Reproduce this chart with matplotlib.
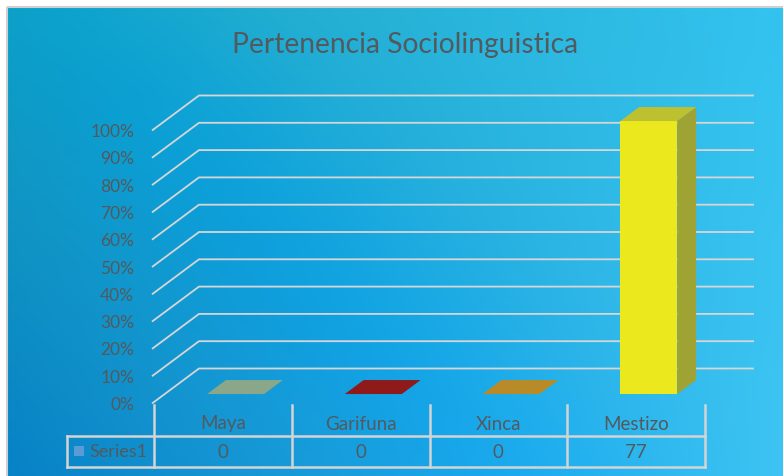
import numpy as np
import matplotlib
matplotlib.use("Agg")
import matplotlib.pyplot as plt
from matplotlib.patches import Polygon, Rectangle

# data
title = "Pertenencia Sociolinguistica"
categories = ["Maya", "Garifuna", "Xinca", "Mestizo"]
series_name = "Series1"
values = [0, 0, 0, 77]
tick_pcts = [0, 10, 20, 30, 40, 50, 60, 70, 80, 90, 100]

# one series, 100% stacked -> every non-zero point fills the column
pcts = [100.0 * v / v if v else 0.0 for v in values]

W, H = 783, 476
fig = plt.figure(figsize=(W / 100, H / 100), dpi=100)
ax = fig.add_axes([0, 0, 1, 1])
ax.set_xlim(0, W)
ax.set_ylim(H, 0)
ax.axis("off")
plt.rcParams["font.family"] = ["Lato", "DejaVu Sans"]
txt = "#535a5f"

# gradient background (bilinear between the four corners, plus a deeper middle)
tl = np.array([0x1b, 0xa3, 0xbf]) / 255
tr = np.array([0x33, 0xc3, 0xef]) / 255
bl = np.array([0x06, 0x82, 0xc6]) / 255
br = np.array([0x3e, 0xc4, 0xf3]) / 255
u = np.linspace(0, 1, 200)[None, :, None]
v = np.linspace(0, 1, 150)[:, None, None]
grad = (1 - v) * ((1 - u) * tl + u * tr) + v * ((1 - u) * bl + u * br)
# slightly more saturated diagonal band across the middle
band = np.exp(-((u - 0.35) + (0.5 - v) * 0.6) ** 2 / 0.05)
grad = grad + band * (np.array([-0.06, -0.01, 0.04]))
grad = np.clip(grad, 0, 1)
ax.imshow(grad, extent=[7, W, H, 7], aspect="auto", interpolation="bilinear", zorder=0)
ax.add_patch(Rectangle((7, 7), W, H, fill=False, ec="#d0d0d0", lw=1.5, zorder=1))

# faux 3D geometry
x_front = 152
y_zero = 403.5
px_per_pct = 2.73
depth_dx, depth_dy = 47, -35
x_right = 754
slot_left, slot_right = 154, 705


def proj(x, pct, depth):
    return (x + depth_dx * depth, y_zero - pct * px_per_pct + depth_dy * depth)


grid_col = "#d6d6d6"
for p in tick_pcts:
    x0, y0 = proj(x_front, p, 0)
    x1, y1 = proj(x_front, p, 1)
    ax.plot([x0, x1, x_right], [y0, y1, y1], color=grid_col, lw=1.3, zorder=2,
            solid_capstyle="butt")
    ax.text(134, y0 + 1.5, f"{p}%", ha="right", va="center", fontsize=12.5, color=txt)

# bars
n = len(categories)
slot_w = (slot_right - slot_left) / n
bar_w = 57
d0, d1 = 0.27, 0.67
flat_cols = ["#8aa889", "#8e1a1a", "#b88a28", "#ece81e"]
top_cols = ["#8aa889", "#8e1a1a", "#b88a28", "#bdc130"]
side_cols = ["#7a9679", "#7a1515", "#a07720", "#9fa334"]
for i, p in enumerate(pcts):
    xc = slot_left + slot_w * (i + 0.5)
    xa, xb = xc - bar_w / 2, xc + bar_w / 2
    if p > 0:
        front = [proj(xa, 0, d0), proj(xb, 0, d0), proj(xb, p, d0), proj(xa, p, d0)]
        side = [proj(xb, 0, d0), proj(xb, 0, d1), proj(xb, p, d1), proj(xb, p, d0)]
        ax.add_patch(Polygon(front, closed=True, fc=flat_cols[i], ec="none", zorder=4))
        ax.add_patch(Polygon(side, closed=True, fc=side_cols[i], ec="none", zorder=4))
    top = [proj(xa, p, d0), proj(xb, p, d0), proj(xb, p, d1), proj(xa, p, d1)]
    ax.add_patch(Polygon(top, closed=True, fc=top_cols[i], ec="none", zorder=4))

# data table
line_col = "#d4d4d4"
row1_y, row2_y, bot_y = 405, 436, 467
for k in range(n + 1):
    xk = slot_left + slot_w * k
    ax.plot([xk, xk], [row1_y, bot_y], color=line_col, lw=1.8, zorder=3)
ax.plot([67, slot_right], [row2_y, row2_y], color=line_col, lw=1.8, zorder=3)
ax.plot([67, slot_right], [bot_y, bot_y], color=line_col, lw=1.8, zorder=3)
ax.plot([67, 67], [row2_y, bot_y], color=line_col, lw=1.8, zorder=3)
for i, (c, val) in enumerate(zip(categories, values)):
    xc = slot_left + slot_w * (i + 0.5)
    ax.text(xc, 424, c, ha="center", va="center", fontsize=13.5, color=txt)
    ax.text(xc, 452, f"{val}", ha="center", va="center", fontsize=13.5, color=txt)
ax.add_patch(Rectangle((74, 446), 10, 10, fc="#5b9bd5", ec="none", zorder=4))
ax.text(89, 452, series_name, ha="left", va="center", fontsize=13, color=txt)

ax.text(405, 45, title, ha="center", va="center", fontsize=20.3, color=txt)

fig.savefig("out.png", dpi=100)
